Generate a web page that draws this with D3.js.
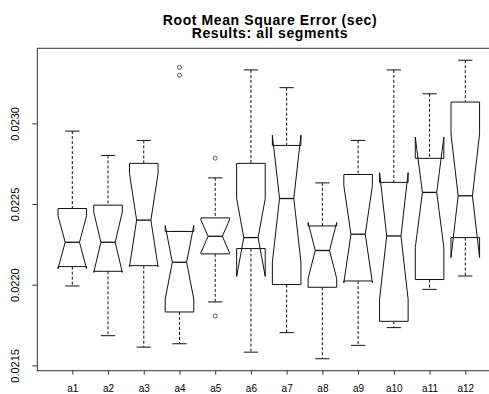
<!DOCTYPE html>
<html>
<head>
<meta charset="utf-8">
<script src="https://cdn.jsdelivr.net/npm/d3@7"></script>
<style>
  body { margin: 0; background: #fff; }
  text { font-family: "Liberation Sans", Arial, sans-serif; fill: #000; }
</style>
</head>
<body>
<svg width="489" height="394"></svg>
<script>
// groups and their five-number summaries
let groups = ["a1","a2","a3","a4","a5","a6","a7","a8","a9","a10","a11","a12"];
let whiskerLow  = [0.021992,0.021684,0.021613,0.021634,0.021893,0.021582,0.021703,0.021541,0.021624,0.021734,0.021971,0.022054];
let q1          = [0.022112,0.022083,0.022118,0.021831,0.022191,0.022224,0.022001,0.021984,0.022023,0.021773,0.022032,0.022292];
let medians     = [0.022263,0.022263,0.022400,0.022139,0.022300,0.022292,0.022534,0.022212,0.022313,0.022302,0.022572,0.022551];
let q3          = [0.022472,0.022493,0.022752,0.022330,0.022414,0.022752,0.022863,0.022364,0.022683,0.022634,0.022783,0.023132];
let whiskerHigh = [0.022952,0.022801,0.022894,0.022330,0.022662,0.023331,0.023221,0.022631,0.022894,0.023331,0.023183,0.023391];
let counts      = [12,12,12,12,12,12,12,12,12,12,12,12];
let outliers    = [[],[],[],[0.023347,0.023298],[0.022784,0.021806],[],[],[],[],[],[],[]];
let yTicks = [0.0215, 0.0220, 0.0225, 0.0230];

let svg = d3.select("svg");
let plotLeft = 37.3, plotTop = 48.3, plotBottom = 370.7, plotRight = 500.3;

// R style range: data extended by 4% each side
let allVals = whiskerLow.concat(whiskerHigh, outliers.flat());
let lo = d3.min(allVals), hi = d3.max(allVals);
let pad = (hi - lo) * 0.04;

let x = d3.scaleLinear().domain([0.5 - 0.48, groups.length + 0.5 + 0.48]).range([plotLeft, plotRight]);
let y = d3.scaleLinear().domain([lo - pad, hi + pad]).range([plotBottom, plotTop]);

let boxes = groups.map(function(g, i) {
    let iqr = q3[i] - q1[i];
    let d = 1.58 * iqr / Math.sqrt(counts[i]);
    return {name: g, pos: i + 1, wl: whiskerLow[i], q1: q1[i], med: medians[i], q3: q3[i],
            wh: whiskerHigh[i], nlo: medians[i] - d, nhi: medians[i] + d, out: outliers[i]};
});

let wex = 0.4; // half of boxwex 0.8

// title
svg.append("text").attr("x", 270).attr("y", 24.5).attr("text-anchor", "middle")
    .style("font-weight", "bold").style("font-size", "14px").style("letter-spacing", "0.6px")
    .text("Root Mean Square Error (sec)");
svg.append("text").attr("x", 270).attr("y", 38).attr("text-anchor", "middle")
    .style("font-weight", "bold").style("font-size", "14px").style("letter-spacing", "0.6px")
    .text("Results: all segments");

// frame
svg.append("rect").attr("x", plotLeft).attr("y", plotTop)
    .attr("width", plotRight - plotLeft).attr("height", plotBottom - plotTop)
    .attr("fill", "none").attr("stroke", "#333").attr("stroke-width", 1);

// y axis
let yAxis = d3.axisLeft(y).tickValues(yTicks).tickSize(5).tickSizeOuter(0)
    .tickFormat(d3.format(".4f"));
let ya = svg.append("g").attr("transform", `translate(${plotLeft},0)`).call(yAxis);
ya.select(".domain").remove();
ya.selectAll(".tick line").attr("stroke", "#333");
ya.selectAll(".tick text")
    .attr("transform", "rotate(-90)")
    .attr("x", 0).attr("y", -18.5).attr("dy", 0)
    .attr("text-anchor", "middle")
    .style("font-size", "11px").style("font-family", '"Liberation Sans", Arial, sans-serif');

// x axis
let xAxis = d3.axisBottom(x).tickValues(d3.range(1, groups.length + 1)).tickSize(4).tickSizeOuter(0)
    .tickFormat(function(d) { return groups[d - 1]; });
let xa = svg.append("g").attr("transform", `translate(0,${plotBottom})`).call(xAxis);
xa.select(".domain").remove();
xa.selectAll(".tick line").attr("stroke", "#333");
xa.selectAll(".tick text").attr("y", 21.8).attr("dy", 0)
    .style("font-size", "10px").style("font-family", '"Liberation Sans", Arial, sans-serif');

// boxes
let bg = svg.append("g").selectAll("g").data(boxes).enter().append("g")
    .attr("fill", "none").attr("stroke", "#111").attr("stroke-width", 1);

// dashed whiskers
bg.append("line").attr("x1", (d) => x(d.pos)).attr("x2", (d) => x(d.pos))
    .attr("y1", (d) => y(d.wh)).attr("y2", (d) => y(d.q3)).attr("stroke-dasharray", "3,2");
bg.append("line").attr("x1", (d) => x(d.pos)).attr("x2", (d) => x(d.pos))
    .attr("y1", (d) => y(d.q1)).attr("y2", (d) => y(d.wl)).attr("stroke-dasharray", "3,2");

// staples
bg.append("line").attr("x1", (d) => x(d.pos - wex / 2)).attr("x2", (d) => x(d.pos + wex / 2))
    .attr("y1", (d) => y(d.wh)).attr("y2", (d) => y(d.wh));
bg.append("line").attr("x1", (d) => x(d.pos - wex / 2)).attr("x2", (d) => x(d.pos + wex / 2))
    .attr("y1", (d) => y(d.wl)).attr("y2", (d) => y(d.wl));

// notched box outline
bg.append("path").attr("fill", "#fff").attr("d", function(d) {
    let xs = [-1, 1, 1, 0.5, 1, 1, -1, -1, -0.5, -1];
    let ys = [d.q1, d.q1, d.nlo, d.med, d.nhi, d.q3, d.q3, d.nhi, d.med, d.nlo];
    return d3.line()(xs.map((k, j) => [x(d.pos + k * wex), y(ys[j])])) + "Z";
});

// median
bg.append("line").attr("x1", (d) => x(d.pos - wex / 2)).attr("x2", (d) => x(d.pos + wex / 2))
    .attr("y1", (d) => y(d.med)).attr("y2", (d) => y(d.med)).attr("stroke-width", 1.3);

// outliers
bg.selectAll("circle").data((d) => d.out.map((v) => ({pos: d.pos, v: v}))).enter().append("circle")
    .attr("cx", (o) => x(o.pos)).attr("cy", (o) => y(o.v)).attr("r", 2)
    .attr("stroke", "#333").attr("stroke-width", 0.8);
</script>
</body>
</html>
